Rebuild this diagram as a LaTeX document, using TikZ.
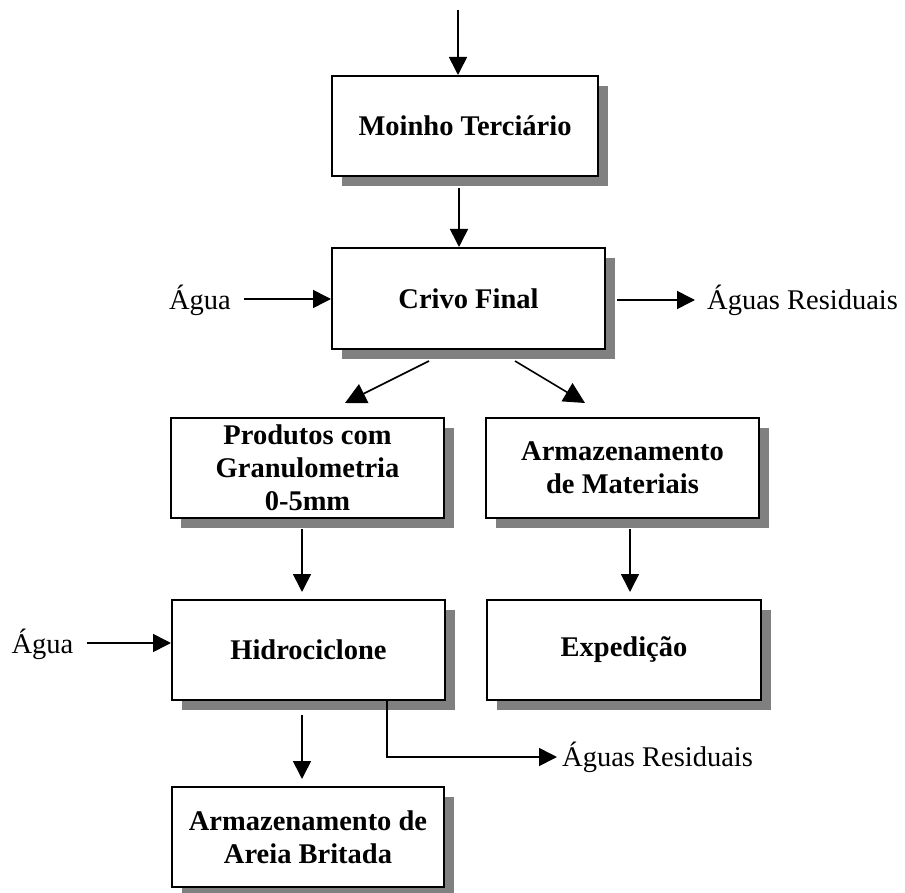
\documentclass[tikz,border=0pt]{standalone}
\usepackage{fontspec}
\setmainfont{Liberation Serif}
\usetikzlibrary{arrows.meta,calc,shadows}
\definecolor{shadowgray}{HTML}{808080}
\begin{document}
\begin{tikzpicture}[x=1pt,y=-1pt,
  box/.style={draw, line width=2pt, fill=white, align=center, inner sep=0pt,
    minimum width=273pt, minimum height=100pt,
    font=\fontsize{28.5}{33}\selectfont\bfseries,
    drop shadow={shadow xshift=10pt, shadow yshift=-10pt, fill=shadowgray, opacity=1}},
  lbl/.style={inner sep=0pt, font=\fontsize{28.5}{33}\selectfont},
  arr/.style={line width=1.6pt, -{Triangle[length=18pt,width=18pt]}},
  darr/.style={line width=1.6pt, -{Triangle[length=21pt,width=21pt]}},
]
\useasboundingbox (0,0) rectangle (905,893);

% process boxes
\node[box, minimum width=266pt] (moinho) at (465,126) {Moinho Terciário};
\node[box, minimum height=101pt] (crivo) at (468.5,298.5) {Crivo Final};
\node[box] (produtos) at (307.5,468) {Produtos com\\Granulometria\\0-5mm};
\node[box] (materiais) at (622.5,468) {Armazenamento\\de Materiais};
\node[box] (hidro) at (308.5,650) {Hidrociclone};
\node[box, minimum width=274pt] (exped) at (624,650) {Expedição};
\node[box, minimum width=272pt] (areia) at (308,837) {Armazenamento de\\Areia Britada};

% inputs and outputs
\node[lbl] (agua1) at (200,300) {Água};
\node[lbl, anchor=west] (res1) at (707,300) {Águas Residuais};
\node[lbl] (agua2) at (42.5,644.5) {Água};
\node[lbl, anchor=west] (res2) at (562,757) {Águas Residuais};
\coordinate (feed) at (458,10);

% flow
\draw[arr] (feed) -- (feed |- moinho.north);
\draw[arr] ($(moinho.south)+(-6,11)$) -- ($(moinho.south |- crivo.north)+(-6,0)$);
\draw[arr] ($(agua1.east)+(13,-1)$) -- ($(crivo.west)+(0,0.5)$);
\draw[arr] ($(crivo.east)+(11,1.5)$) -- ($(res1.west)+(-12,0)$);
\draw[darr] ($(crivo.south)+(-39.5,11)$) -- ($(produtos.north)+(37.5,-14)$);
\draw[darr] ($(crivo.south)+(46.5,11)$) -- ($(materiais.north)+(-37.5,-14)$);
\draw[arr] ($(produtos.south)+(-5.5,10)$) -- ($(hidro.north)+(-6.5,-7)$);
\draw[arr] ($(materiais.south)+(7.5,10)$) -- ($(exped.north)+(6,-7)$);
\draw[arr] ($(agua2.east)+(13,-1.5)$) -- ($(hidro.west)+(0,-7)$);
\draw[arr] ($(hidro.south)+(-6.5,14)$) -- ($(areia.north)+(-6,-7)$);
\draw[arr] ($(hidro.south)+(78.5,0)$) |- ($(res2.west)+(-5,0)$);
\end{tikzpicture}
\end{document}
